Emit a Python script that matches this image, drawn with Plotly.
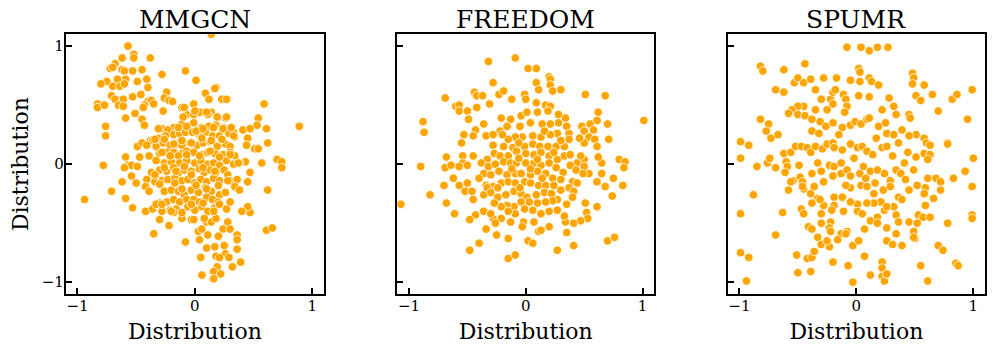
import plotly.graph_objects as go

# scatter points (x, y) per model
mmgcn_pts = [
    (-0.57, 1.00), (-0.52, 0.93), (-0.52, 0.90), (-0.38, 0.90), (-0.62, 0.90), (-0.68, 0.85),
    (-0.72, 0.81), (-0.70, 0.82), (-0.62, 0.80), (-0.60, 0.79), (-0.53, 0.79), (-0.45, 0.80),
    (-0.28, 0.76), (-0.08, 0.79), (-0.59, 0.72), (-0.66, 0.72), (-0.41, 0.72), (0.01, 0.71),
    (-0.75, 0.70), (-0.80, 0.68), (-0.70, 0.66), (-0.64, 0.66), (-0.60, 0.68), (-0.49, 0.70),
    (-0.40, 0.65), (0.18, 0.65), (0.17, 0.64), (-0.24, 0.61), (0.09, 0.60), (-0.71, 0.58),
    (-0.68, 0.55), (-0.61, 0.55), (-0.53, 0.57), (-0.46, 0.59), (-0.40, 0.53), (-0.37, 0.54),
    (-0.26, 0.56), (-0.22, 0.54), (-0.19, 0.53), (0.12, 0.55), (0.23, 0.55), (0.27, 0.55),
    (-0.83, 0.51), (-0.83, 0.48), (-0.77, 0.50), (-0.65, 0.50), (-0.61, 0.49), (-0.43, 0.50),
    (-0.44, 0.48), (-0.35, 0.51), (-0.11, 0.48), (-0.01, 0.51), (0.59, 0.51), (-0.51, 0.43),
    (-0.45, 0.38), (-0.59, 0.39), (-0.27, 0.45), (0.08, 0.44), (0.14, 0.44), (0.19, 0.40),
    (0.26, 0.39), (0.54, 0.39), (0.53, 0.33), (-0.76, 0.32), (-0.43, 0.33), (-0.28, 0.30),
    (0.89, 0.32), (-0.76, 0.24), (0.41, 0.29), (0.47, 0.30), (0.61, 0.30), (0.45, 0.22),
    (0.62, 0.18), (0.44, 0.16), (-0.49, 0.15), (-0.45, 0.18), (-0.38, 0.20), (0.51, 0.13),
    (0.54, 0.13), (0.34, 0.07), (-0.78, -0.01), (-0.59, 0.06), (-0.57, -0.01), (-0.54, -0.01),
    (-0.47, 0.06), (-0.39, 0.07), (-0.49, -0.02), (-0.60, -0.03), (0.37, 0.01), (0.43, 0.02),
    (0.47, -0.07), (0.57, 0.01), (0.70, 0.04), (0.74, 0.02), (0.74, -0.03), (-0.54, -0.10),
    (-0.62, -0.15), (-0.50, -0.16), (-0.41, -0.13), (-0.42, -0.19), (-0.35, -0.09), (-0.71, -0.23),
    (-0.94, -0.30), (-0.59, -0.29), (-0.53, -0.37), (-0.39, -0.23), (-0.42, -0.40), (-0.36, -0.38),
    (0.62, -0.22), (0.45, -0.15), (0.35, -0.20), (0.41, -0.40), (0.47, -0.41), (0.45, -0.36),
    (0.61, -0.56), (0.66, -0.54), (-0.30, -0.47), (-0.22, -0.52), (-0.35, -0.59), (-0.08, -0.66),
    (0.03, -0.57), (0.06, -0.55), (0.10, -0.49), (0.14, -0.49), (0.18, -0.46), (0.28, -0.49),
    (0.24, -0.55), (0.30, -0.55), (0.04, -0.64), (0.11, -0.60), (0.20, -0.61), (0.10, -0.71),
    (0.17, -0.70), (0.25, -0.69), (0.36, -0.60), (0.36, -0.64), (0.26, -0.76), (0.36, -0.72),
    (0.05, -0.79), (0.18, -0.78), (0.21, -0.79), (0.29, -0.79), (0.39, -0.83), (0.32, -0.87),
    (0.19, -0.87), (0.16, -0.91), (0.22, -0.93), (0.06, -0.94), (0.16, -0.97), (0.14, 1.10),
    (-0.07, 0.42), (-0.01, 0.42), (0.04, 0.44), (0.11, 0.42), (-0.11, 0.34), (-0.06, 0.32),
    (-0.01, 0.35), (0.06, 0.31), (0.12, 0.32), (0.18, 0.33), (0.24, 0.31), (0.30, 0.30),
    (0.33, 0.27), (-0.18, 0.31), (-0.23, 0.29), (-0.31, 0.22), (-0.25, 0.24), (-0.18, 0.25),
    (-0.13, 0.26), (-0.08, 0.27), (-0.02, 0.27), (0.04, 0.25), (0.09, 0.27), (0.15, 0.24),
    (0.21, 0.24), (0.29, 0.26), (0.34, 0.23), (-0.36, 0.20), (-0.33, 0.15), (-0.27, 0.18),
    (-0.21, 0.16), (-0.16, 0.17), (-0.11, 0.16), (-0.04, 0.18), (0.02, 0.16), (0.07, 0.18),
    (0.13, 0.19), (0.19, 0.15), (0.26, 0.17), (0.30, 0.15), (-0.41, 0.16), (-0.30, 0.09),
    (-0.24, 0.10), (-0.18, 0.10), (-0.11, 0.09), (-0.07, 0.11), (-0.01, 0.10), (0.06, 0.08),
    (0.11, 0.10), (0.17, 0.09), (0.24, 0.08), (0.30, 0.10), (0.34, 0.07), (-0.14, 0.07),
    (-0.33, 0.03), (-0.26, 0.01), (-0.20, 0.02), (-0.13, 0.01), (-0.07, 0.03), (0.00, 0.01),
    (0.05, 0.03), (0.11, 0.00), (0.16, 0.01), (0.21, -0.01), (0.27, 0.03), (0.33, 0.00),
    (0.38, 0.01), (-0.30, -0.05), (-0.24, -0.06), (-0.18, -0.03), (-0.14, -0.07), (-0.09, -0.05),
    (-0.03, -0.06), (0.04, -0.04), (0.08, -0.07), (0.13, -0.05), (0.18, -0.07), (0.25, -0.05),
    (0.28, -0.09), (-0.37, -0.07), (-0.34, -0.15), (-0.28, -0.14), (-0.23, -0.13), (-0.17, -0.12),
    (-0.11, -0.14), (-0.06, -0.13), (0.00, -0.16), (0.05, -0.13), (0.10, -0.15), (0.16, -0.12),
    (0.21, -0.14), (0.30, -0.14), (0.36, -0.13), (0.34, -0.19), (0.38, -0.22), (-0.26, -0.23),
    (-0.20, -0.22), (-0.14, -0.23), (-0.09, -0.26), (-0.03, -0.22), (0.03, -0.24), (0.09, -0.20),
    (0.14, -0.23), (0.21, -0.26), (0.26, -0.24), (-0.30, -0.33), (-0.24, -0.32), (-0.18, -0.30),
    (-0.13, -0.32), (-0.07, -0.30), (-0.01, -0.30), (0.04, -0.32), (0.10, -0.28), (0.15, -0.30),
    (0.20, -0.32), (-0.33, -0.34), (-0.28, -0.40), (-0.21, -0.39), (-0.16, -0.38), (-0.11, -0.42),
    (-0.06, -0.36), (0.00, -0.39), (0.06, -0.36), (0.11, -0.40), (0.17, -0.37), (0.27, -0.38),
    (0.30, -0.32), (-0.03, -0.47), (0.08, -0.46), (-0.11, -0.46), (-0.18, -0.41), (-0.27, 0.45),
    (-0.09, 0.48), (0.00, 0.45), (0.10, 0.44), (0.19, 0.40), (0.27, 0.40), (-0.10, 0.40),
    (-0.31, 0.30), (-0.14, 0.31), (-0.07, 0.32), (0.01, 0.28), (0.07, 0.30), (0.16, 0.31),
    (0.24, 0.30), (0.31, 0.31), (-0.34, 0.21), (-0.26, 0.21), (-0.18, 0.17), (-0.11, 0.20),
    (-0.03, 0.18), (0.06, 0.22), (0.14, 0.20), (0.23, 0.21), (0.33, 0.24), (-0.28, 0.10),
    (-0.21, 0.07), (-0.07, 0.08), (0.04, 0.07), (0.13, 0.11), (0.21, 0.06), (0.30, 0.08),
    (0.37, 0.01), (-0.34, -0.09), (-0.26, -0.03), (-0.16, -0.06), (-0.09, -0.02), (-0.03, -0.09),
    (0.07, -0.03), (0.17, -0.06), (0.28, -0.14), (-0.30, -0.17), (-0.17, -0.16), (-0.11, -0.21),
    (0.01, -0.18), (0.10, -0.21), (0.20, -0.18), (-0.28, -0.34), (-0.20, -0.40), (-0.11, -0.41),
    (-0.03, -0.34), (0.07, -0.33), (0.16, -0.40), (0.21, -0.34), (0.40, -0.40), (-0.01, -0.47),
]

freedom_pts = [
    (-0.09, 0.90), (-0.32, 0.87), (0.02, 0.81), (0.09, 0.81), (-0.28, 0.69), (0.09, 0.69),
    (0.20, 0.74), (0.21, 0.72), (0.21, 0.67), (-0.44, 0.61), (-0.42, 0.58), (-0.37, 0.58),
    (-0.69, 0.56), (-0.23, 0.59), (-0.19, 0.62), (-0.01, 0.59), (0.11, 0.63), (0.30, 0.63),
    (0.23, 0.62), (0.51, 0.59), (0.68, 0.58), (-0.60, 0.49), (-0.57, 0.50), (-0.57, 0.45),
    (-0.50, 0.45), (-0.49, 0.38), (-0.42, 0.48), (-0.31, 0.51), (-0.12, 0.55), (0.00, 0.55),
    (0.09, 0.52), (0.17, 0.50), (0.21, 0.49), (0.62, 0.44), (0.61, 0.37), (-0.88, 0.36),
    (-0.87, 0.27), (1.01, 0.37), (-0.36, 0.34), (-0.43, 0.29), (-0.53, 0.25), (-0.55, 0.18),
    (-0.45, 0.24), (-0.34, 0.24), (-0.28, 0.16), (-0.21, 0.39), (-0.13, 0.38), (-0.04, 0.41),
    (0.01, 0.44), (0.10, 0.44), (0.19, 0.45), (0.28, 0.42), (0.34, 0.39), (0.35, 0.32),
    (0.28, 0.35), (0.21, 0.34), (0.14, 0.34), (0.04, 0.35), (-0.05, 0.32), (-0.16, 0.32),
    (-0.22, 0.28), (-0.28, 0.25), (0.48, 0.32), (0.50, 0.28), (0.55, 0.34), (0.58, 0.29),
    (0.54, 0.23), (0.50, 0.18), (0.59, 0.21), (0.70, 0.34), (0.71, 0.21), (0.61, 0.15),
    (0.46, 0.22), (0.37, 0.26), (0.37, 0.21), (0.27, 0.26), (0.21, 0.25), (0.13, 0.23),
    (0.06, 0.24), (-0.03, 0.23), (-0.09, 0.23), (-0.15, 0.21), (-0.20, 0.25), (-0.01, 0.15),
    (0.06, 0.17), (0.12, 0.15), (0.19, 0.15), (0.26, 0.15), (0.33, 0.15), (-0.19, 0.15),
    (-0.11, 0.14), (-0.27, 0.09), (-0.22, 0.07), (-0.15, 0.07), (-0.08, 0.11), (0.00, 0.09),
    (0.07, 0.08), (0.13, 0.10), (0.20, 0.07), (0.27, 0.04), (0.33, 0.07), (0.38, 0.08),
    (0.44, 0.01), (0.50, 0.04), (0.47, 0.07), (-0.33, 0.04), (-0.38, 0.01), (-0.45, 0.07),
    (-0.54, 0.07), (-0.54, 0.01), (-0.68, 0.06), (-0.69, -0.03), (-0.64, -0.01), (-0.57, -0.02),
    (-0.50, -0.01), (-0.32, -0.02), (-0.26, 0.00), (-0.19, 0.02), (-0.13, 0.01), (-0.08, 0.01),
    (0.00, 0.01), (0.07, 0.01), (0.13, -0.01), (0.20, 0.01), (0.26, -0.03), (0.32, -0.07),
    (0.38, -0.01), (0.43, -0.05), (0.50, -0.02), (0.54, -0.08), (0.65, 0.01), (0.62, 0.06),
    (0.80, 0.04), (0.85, 0.02), (0.84, -0.03), (-0.90, -0.02), (-0.36, -0.08), (-0.30, -0.09),
    (-0.23, -0.06), (-0.16, -0.09), (-0.09, -0.08), (-0.04, -0.08), (0.04, -0.09), (0.10, -0.06),
    (0.17, -0.08), (0.23, -0.12), (0.30, -0.13), (0.40, -0.15), (0.44, -0.16), (0.49, -0.08),
    (-0.70, -0.18), (-0.62, -0.12), (-0.57, -0.18), (-0.52, -0.23), (-0.50, -0.16), (-0.46, -0.23),
    (-0.40, -0.12), (-0.34, -0.18), (-0.28, -0.19), (-0.21, -0.16), (-0.15, -0.15), (-0.09, -0.16),
    (-0.01, -0.15), (0.04, -0.16), (0.11, -0.18), (0.17, -0.18), (0.24, -0.18), (0.30, -0.22),
    (0.37, -0.20), (0.41, -0.23), (0.40, -0.28), (0.35, -0.34), (0.27, -0.30), (-0.82, -0.26),
    (-0.68, -0.33), (-0.61, -0.42), (-0.45, -0.30), (-0.36, -0.26), (-0.33, -0.20), (-0.30, -0.24),
    (-0.24, -0.28), (-0.17, -0.26), (-0.10, -0.23), (-0.04, -0.25), (0.01, -0.28), (0.09, -0.26),
    (0.16, -0.24), (0.22, -0.25), (0.23, -0.31), (0.17, -0.32), (0.10, -0.33), (0.03, -0.32),
    (-0.04, -0.32), (-0.10, -0.36), (-0.16, -0.35), (-0.21, -0.36), (-0.27, -0.33), (-1.07, -0.34),
    (0.51, -0.33), (0.52, -0.41), (0.53, -0.46), (0.61, -0.36), (0.47, -0.48), (0.34, -0.49),
    (0.33, -0.44), (0.27, -0.39), (0.20, -0.40), (0.13, -0.42), (0.06, -0.39), (-0.01, -0.38),
    (-0.09, -0.42), (-0.15, -0.40), (-0.21, -0.46), (-0.28, -0.46), (-0.36, -0.40), (-0.43, -0.43),
    (-0.48, -0.47), (-0.30, -0.42), (-0.34, -0.55), (-0.26, -0.50), (-0.13, -0.49), (-0.02, -0.49),
    (0.07, -0.49), (0.11, -0.57), (0.20, -0.53), (0.13, -0.56), (-0.03, -0.53), (-0.25, -0.60),
    (-0.15, -0.63), (0.02, -0.65), (0.06, -0.67), (0.35, -0.58), (0.41, -0.50), (0.70, -0.65),
    (0.76, -0.62), (0.41, -0.69), (0.27, -0.73), (-0.48, -0.73), (-0.40, -0.67), (-0.15, -0.80),
    (-0.09, -0.77), (0.74, -0.27), (0.75, -0.12), (0.83, -0.18), (0.68, -0.19), (0.61, -0.15),
    (0.65, -0.08), (-0.06, 0.05), (0.04, -0.04), (0.10, 0.04), (-0.12, -0.04), (0.24, 0.10),
    (-0.24, -0.20), (0.14, -0.12), (-0.05, -0.20), (0.30, 0.20), (-0.06, 0.18), (0.16, 0.28),
]

spumr_pts = [
    (-0.08, 0.99), (0.04, 0.99), (0.11, 0.96), (0.18, 0.99), (0.27, 0.99), (-0.82, 0.83),
    (-0.80, 0.79), (-0.62, 0.80), (-0.44, 0.85), (0.02, 0.81), (0.03, 0.78), (0.03, 0.70),
    (0.48, 0.77), (0.49, 0.73), (0.48, 0.68), (0.58, 0.67), (0.99, 0.63), (-0.69, 0.63),
    (-0.62, 0.61), (-0.53, 0.69), (-0.50, 0.73), (-0.45, 0.69), (-0.39, 0.72), (-0.35, 0.63),
    (-0.28, 0.73), (-0.17, 0.73), (-0.05, 0.71), (0.11, 0.73), (0.13, 0.70), (0.19, 0.67),
    (0.02, 0.58), (0.11, 0.57), (0.28, 0.56), (0.32, 0.49), (0.34, 0.42), (0.51, 0.58),
    (0.55, 0.54), (0.65, 0.59), (0.82, 0.55), (0.86, 0.59), (0.70, 0.45), (-0.30, 0.55),
    (-0.22, 0.55), (-0.20, 0.61), (-0.18, 0.63), (-0.11, 0.59), (-0.09, 0.55), (-0.08, 0.49),
    (-0.20, 0.51), (-0.25, 0.46), (-0.35, 0.46), (-0.45, 0.49), (-0.50, 0.49), (-0.55, 0.46),
    (-0.58, 0.43), (-0.50, 0.42), (-0.44, 0.41), (-0.82, 0.38), (-0.75, 0.34), (-0.77, 0.28),
    (-0.73, 0.22), (-0.67, 0.25), (-0.99, 0.19), (-0.92, 0.16), (-0.99, 0.05), (-0.85, -0.02),
    (-0.76, 0.01), (-0.74, 0.05), (-0.69, -0.03), (-0.88, -0.26), (-0.99, -0.42), (-0.63, -0.41),
    (-0.69, -0.60), (-0.99, -0.75), (-0.92, -0.79), (-0.94, -0.99), (-0.50, -0.92), (-0.39, -0.91),
    (-0.51, -0.77), (-0.42, -0.80), (-0.38, -0.79), (-0.20, -0.83), (-0.07, -0.86), (-0.03, -1.00),
    (0.07, -0.78), (0.12, -0.94), (0.22, -0.83), (0.22, -0.88), (0.22, -0.95), (0.24, -0.99),
    (0.26, -0.93), (0.55, -0.86), (0.61, -0.99), (0.85, -0.84), (0.87, -0.86), (0.70, -0.69),
    (0.74, -0.73), (0.50, -0.63), (0.49, -0.57), (0.95, 0.38), (1.00, 0.05), (0.99, -0.19),
    (0.99, -0.43), (0.99, -0.46), (0.83, -0.12), (0.93, -0.06), (0.78, -0.50), (0.78, 0.18),
    (0.78, 0.17), (-0.38, 0.38), (-0.31, 0.36), (-0.38, 0.28), (-0.32, 0.26), (-0.26, 0.32),
    (-0.20, 0.35), (-0.12, 0.31), (-0.05, 0.33), (-0.01, 0.36), (0.04, 0.34), (0.09, 0.38),
    (0.11, 0.39), (0.19, 0.32), (0.25, 0.35), (0.26, 0.26), (0.32, 0.25), (0.39, 0.29),
    (0.45, 0.42), (0.46, 0.39), (0.51, 0.25), (0.58, 0.22), (0.60, 0.18), (0.63, 0.16),
    (0.45, 0.24), (-0.62, 0.09), (-0.56, 0.10), (-0.52, 0.15), (-0.47, 0.15), (-0.42, 0.14),
    (-0.39, 0.10), (-0.35, 0.15), (-0.29, 0.13), (-0.25, 0.17), (-0.20, 0.18), (-0.19, 0.14),
    (-0.12, 0.12), (-0.05, 0.17), (0.01, 0.14), (0.05, 0.15), (0.09, 0.11), (0.14, 0.08),
    (0.22, 0.14), (0.26, 0.15), (0.31, 0.07), (0.36, 0.18), (0.44, 0.10), (0.51, 0.06),
    (0.58, 0.09), (0.63, 0.08), (0.61, 0.04), (-0.60, 0.02), (-0.59, -0.02), (-0.61, -0.07),
    (-0.54, -0.14), (-0.58, -0.22), (-0.49, -0.01), (-0.48, -0.11), (-0.46, -0.15), (-0.45, -0.21),
    (-0.38, -0.08), (-0.39, -0.25), (-0.33, 0.01), (-0.30, -0.06), (-0.28, -0.15), (-0.23, -0.01),
    (-0.19, -0.02), (-0.13, 0.01), (-0.20, -0.10), (-0.13, -0.08), (-0.08, -0.05), (-0.05, -0.10),
    (0.03, -0.08), (0.06, -0.02), (0.12, -0.06), (0.18, -0.05), (0.24, -0.08), (0.29, -0.14),
    (0.34, -0.05), (0.41, 0.01), (0.38, -0.08), (0.42, -0.13), (0.49, -0.05), (0.52, -0.18),
    (0.59, -0.20), (0.61, -0.12), (0.68, -0.12), (0.72, -0.15), (0.66, -0.29), (0.72, -0.22),
    (0.58, -0.25), (-0.56, -0.15), (-0.46, -0.19), (-0.36, -0.19), (-0.33, -0.29), (-0.28, -0.35),
    (-0.38, -0.33), (-0.47, -0.38), (-0.45, -0.42), (-0.31, -0.30), (-0.19, -0.28), (-0.12, -0.28),
    (-0.05, -0.20), (-0.09, -0.18), (0.04, -0.18), (0.09, -0.19), (0.16, -0.16), (0.23, -0.22),
    (0.29, -0.19), (0.36, -0.28), (0.39, -0.30), (0.32, -0.36), (0.21, -0.32), (0.15, -0.33),
    (0.09, -0.33), (0.01, -0.34), (-0.05, -0.32), (-0.11, -0.40), (-0.19, -0.35), (-0.21, -0.39),
    (0.01, -0.40), (0.05, -0.42), (0.12, -0.48), (0.18, -0.45), (0.24, -0.39), (0.26, -0.36),
    (0.34, -0.43), (0.36, -0.49), (0.45, -0.49), (0.53, -0.43), (0.57, -0.45), (0.63, -0.45),
    (0.59, -0.35), (-0.41, -0.53), (-0.38, -0.55), (-0.30, -0.50), (-0.22, -0.49), (-0.23, -0.54),
    (-0.22, -0.57), (-0.13, -0.59), (-0.08, -0.57), (-0.09, -0.59), (-0.33, -0.62), (-0.30, -0.68),
    (-0.23, -0.70), (-0.36, -0.74), (-0.25, -0.65), (-0.16, -0.64), (-0.03, -0.69), (0.02, -0.65),
    (0.07, -0.55), (0.18, -0.50), (0.26, -0.54), (0.34, -0.59), (0.26, -0.65), (0.39, -0.69),
    (0.31, -0.68), (0.52, -0.50), (0.49, -0.62), (-0.02, 0.05), (0.08, -0.12), (-0.15, 0.25),
    (0.17, 0.22), (-0.30, -0.42), (0.45, -0.22), (-0.10, 0.44), (0.22, 0.46), (0.15, -0.25),
]

panels = [("MMGCN", mmgcn_pts), ("FREEDOM", freedom_pts), ("SPUMR", spumr_pts)]
x_domains = [(0.066, 0.3253), (0.3989, 0.6569), (0.7306, 0.989)]
y_domain = (0.1624, 0.9023)
tick_vals = [-1, 0, 1]
tick_text = ["\u22121", "0", "1"]

FONT = "DejaVu Serif"
ORANGE = "#FFA500"

fig = go.Figure()

axis_style = dict(
    range=[-1.1, 1.1],
    showline=True, mirror=True, linecolor="black", linewidth=1.8,
    ticks="inside", ticklen=6, tickwidth=1.5, tickcolor="black",
    tickvals=tick_vals, ticktext=tick_text,
    showgrid=False, zeroline=False, automargin=False,
    tickfont=dict(family=FONT, size=15, color="black"),
)

layout = {}
for i, (name, pts) in enumerate(panels):
    xs = [p[0] for p in pts]
    ys = [p[1] for p in pts]
    sfx = "" if i == 0 else str(i + 1)
    fig.add_trace(go.Scatter(
        x=xs, y=ys, mode="markers",
        xaxis="x" + sfx, yaxis="y" + sfx,
        marker=dict(size=8.5, color=ORANGE, line=dict(color="white", width=0.8)),
        showlegend=False,
    ))
    layout["xaxis" + sfx] = dict(
        axis_style, domain=list(x_domains[i]), anchor="y" + sfx, ticklabelstandoff=-3,
        title=dict(text="Distribution", font=dict(family=FONT, size=22, color="black"), standoff=10),
    )
    ydict = dict(axis_style, domain=list(y_domain), anchor="x" + sfx,
                 showticklabels=(i == 0), ticklabelstandoff=-3)
    if i == 0:
        ydict["title"] = dict(text="Distribution", font=dict(family=FONT, size=22, color="black"), standoff=7)
    layout["yaxis" + sfx] = ydict

    fig.add_annotation(
        text=name, xref="paper", yref="paper",
        x=sum(x_domains[i]) / 2, y=y_domain[1], xanchor="center", yanchor="bottom",
        showarrow=False, yshift=-2,
        font=dict(family=FONT, size=25, color="black"),
    )

fig.update_layout(
    **layout,
    width=996, height=351,
    margin=dict(l=0, r=0, t=0, b=0),
    paper_bgcolor="white", plot_bgcolor="white",
    font=dict(family=FONT, color="black"),
)

# drop the default page margin so the figure sits at the window origin
fig.write_html("out.html", config={"displayModeBar": False},
               post_script="document.body.style.margin='0';")
